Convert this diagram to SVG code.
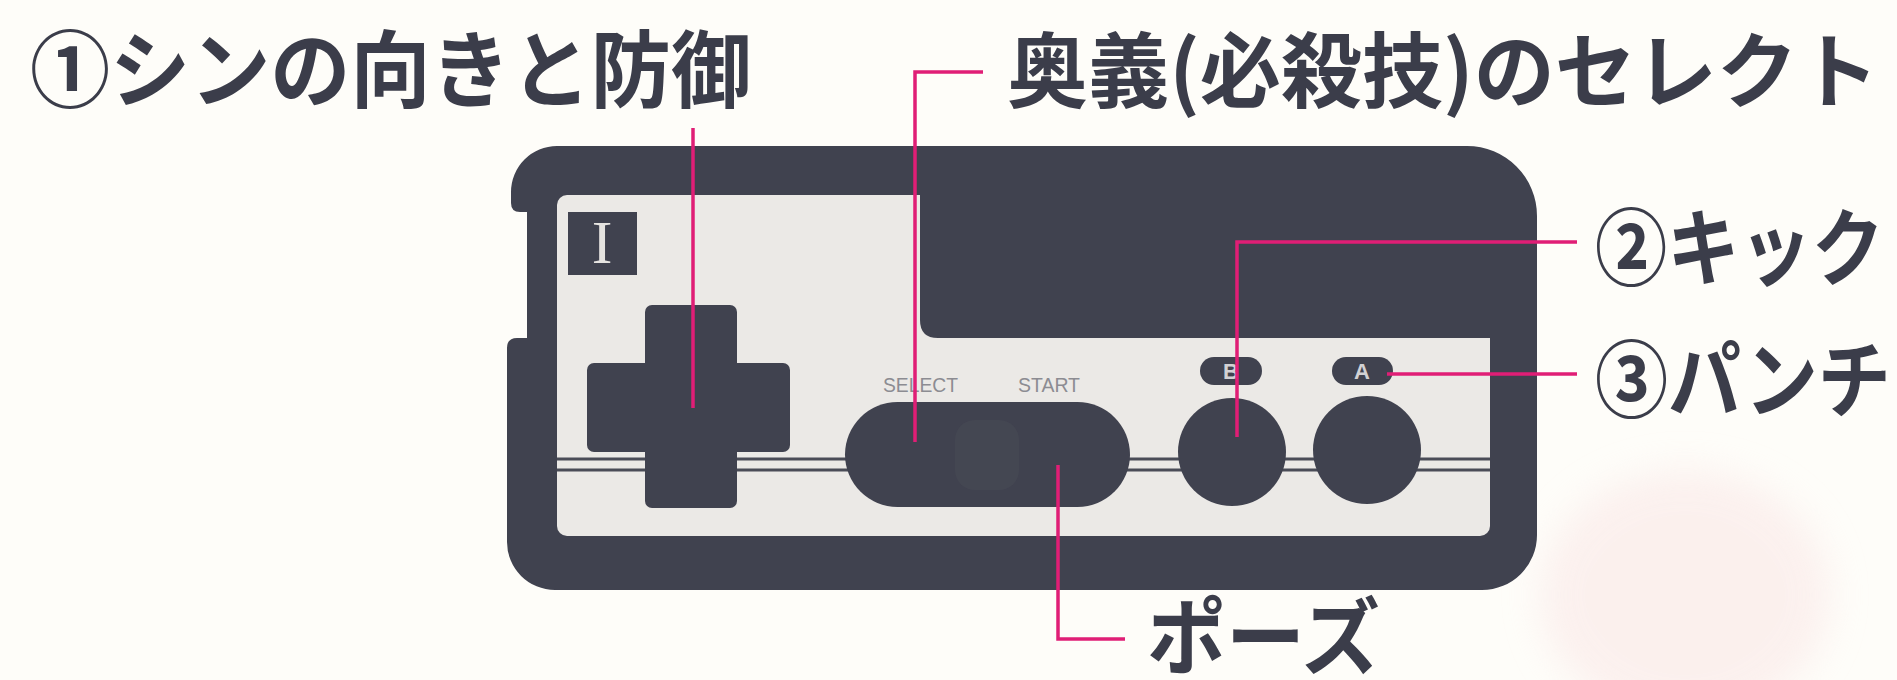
<svg xmlns="http://www.w3.org/2000/svg" width="1897" height="680" viewBox="0 0 1897 680">
  <style>
    .label { font-family: "Noto Sans CJK JP", "Noto Sans", sans-serif; font-weight: 700; font-size: 84px; fill: #3b3d4a; }
    .body { fill: #40424f; }
    .panel { fill: #ebe9e6; }
    .stripe { stroke: #4a4c57; stroke-width: 3; fill: none; }
    .lead { stroke: #e01e76; stroke-width: 3.5; fill: none; }
    .tiny { font-family: "Liberation Sans", Arial, sans-serif; font-size: 20px; fill: #8c8c92; }
    .key { font-family: "Liberation Sans", Arial, sans-serif; font-weight: 700; font-size: 22px; fill: #d2d1d4; text-anchor: middle; }
  </style>
  <defs>
    <filter id="soft" x="-30%" y="-30%" width="160%" height="160%">
      <feGaussianBlur stdDeviation="18"/>
    </filter>
  </defs>

  <!-- paper -->
  <rect x="0" y="0" width="1897" height="680" fill="#fefdf9"/>
  <ellipse cx="1685" cy="595" rx="145" ry="125" fill="#f9e6e5" opacity="0.55" filter="url(#soft)"/>

  <!-- controller -->
  <g id="controller">
    <path class="body" d="M 557,146 H 1467 A 70 70 0 0 1 1537,216 V 535 A 55 55 0 0 1 1482,590 H 555 A 48 48 0 0 1 507,542 V 348 Q 507,338 517,338 H 527 V 212 H 520 Q 511,212 511,203 V 192 A 46 46 0 0 1 557,146 Z"/>
    <rect class="panel" x="557" y="195" width="933" height="341" rx="10"/>
    <path class="body" d="M 920,190 V 320 Q 920,338 938,338 H 1492 V 190 Z"/>
    <line class="stripe" x1="557" y1="459" x2="1490" y2="459"/>
    <line class="stripe" x1="557" y1="470" x2="1490" y2="470"/>
  </g>

  <g id="badge">
    <rect class="body" x="568" y="212" width="69" height="63"/>
    <text x="602" y="263" font-family="Liberation Serif, serif" font-size="62" fill="#e6e4e1" text-anchor="middle">I</text>
  </g>

  <g id="dpad">
    <rect class="body" x="645" y="305" width="92" height="203" rx="7"/>
    <rect class="body" x="587" y="363" width="203" height="89" rx="7"/>
  </g>

  <g id="select-start">
    <text class="tiny" x="883" y="392" textLength="75" lengthAdjust="spacingAndGlyphs">SELECT</text>
    <text class="tiny" x="1018" y="392" textLength="62" lengthAdjust="spacingAndGlyphs">START</text>
    <rect class="body" x="845" y="402" width="285" height="105" rx="52.5"/>
    <rect x="955" y="420" width="64" height="70" rx="20" fill="#5a5c66" opacity="0.18"/>
  </g>

  <g id="button-b">
    <rect class="body" x="1200" y="357" width="62" height="28" rx="14"/>
    <text class="key" x="1231" y="379">B</text>
    <circle class="body" cx="1232" cy="452" r="54"/>
  </g>

  <g id="button-a">
    <rect class="body" x="1332" y="357" width="61" height="28" rx="14"/>
    <text class="key" x="1362" y="379">A</text>
    <circle class="body" cx="1367" cy="450" r="54"/>
  </g>

  <!-- leader lines -->
  <g id="connectors">
    <path class="lead" d="M 693,128 V 408"/>
    <path class="lead" d="M 983,72 H 915 V 442"/>
    <path class="lead" d="M 1058,465 V 639 H 1125"/>
    <path class="lead" d="M 1237,437 V 242 H 1577"/>
    <path class="lead" d="M 1387,374 H 1577"/>
  </g>

  <!-- captions -->
  <g id="label-direction"><text class="label" x="30" y="101" textLength="721" lengthAdjust="spacingAndGlyphs">①シンの向きと防御</text></g>
  <g id="label-select"><text class="label" x="1007" y="101" style="font-size:82px" textLength="872" lengthAdjust="spacingAndGlyphs">奥義(必殺技)のセレクト</text></g>
  <g id="label-kick"><text class="label" transform="translate(1595,279) scale(0.86,1)">②キック</text></g>
  <g id="label-punch"><text class="label" transform="translate(1595,411) scale(0.87,1)">③パンチ</text></g>
  <g id="label-pause"><text class="label" x="1147" y="668" textLength="233" lengthAdjust="spacingAndGlyphs">ポーズ</text></g>
</svg>
